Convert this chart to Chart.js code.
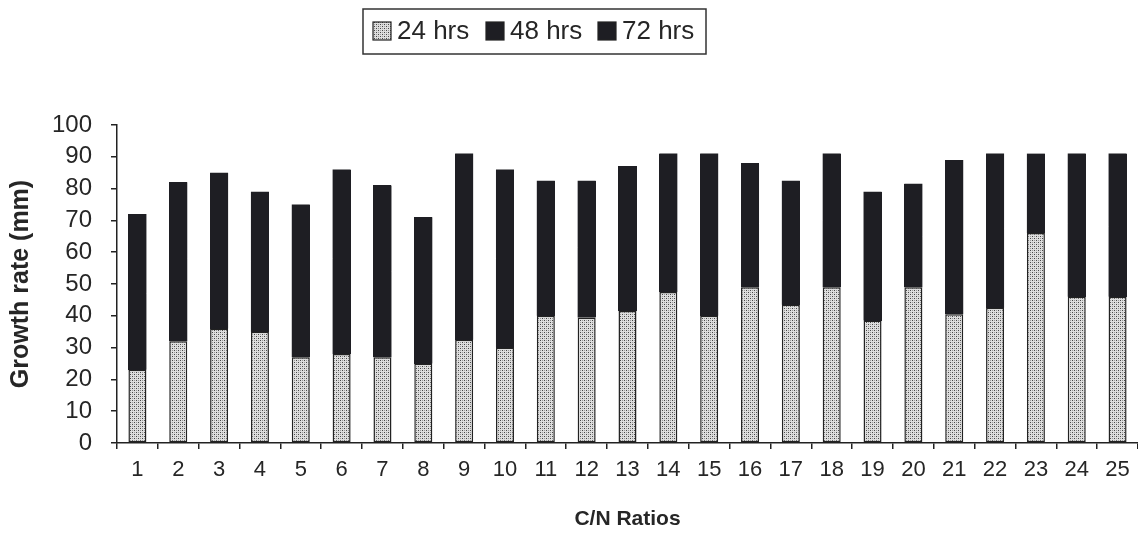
<!DOCTYPE html>
<html>
<head>
<meta charset="utf-8">
<script src="https://cdn.jsdelivr.net/npm/chart.js@4.4.1/dist/chart.umd.min.js"></script>
<style>
  html, body { margin: 0; padding: 0; background: #ffffff; }
  #wrap { width: 1138px; height: 534px; position: relative; }
</style>
</head>
<body>
<div id="wrap"><canvas id="c" width="1138" height="534"></canvas></div>
<script>
const categories = ['1','2','3','4','5','6','7','8','9','10','11','12','13','14','15','16','17','18','19','20','21','22','23','24','25'];
const hrs24 = [23, 32, 36, 35, 27, 28, 27, 25, 32.5, 30, 40, 39.5, 41.5, 47.5, 40, 49, 43.5, 49, 38.5, 49, 40.5, 42.5, 66, 46, 46];
const hrs48 = [24, 26, 25, 22, 23, 30, 27, 22, 30, 28, 21, 22, 23, 22, 26, 20, 19, 21, 20, 16, 24, 25, 12, 23, 22];
const hrs72 = [25, 24, 24, 22, 25, 28, 27, 24, 28.5, 28, 21.5, 21, 22.5, 21.5, 25, 19, 20, 21, 20.5, 16.5, 24.5, 23.5, 13, 22, 23];
const seriesNames = ['24 hrs', '48 hrs', '72 hrs'];
const yTicks = [0, 10, 20, 30, 40, 50, 60, 70, 80, 90, 100];

const ctxMain = document.getElementById('c').getContext('2d');

function makeDots() {
  const p = document.createElement('canvas');
  p.width = 4; p.height = 4;
  const g = p.getContext('2d');
  g.fillStyle = '#dedede';
  g.fillRect(0, 0, 4, 4);
  g.fillStyle = '#474747';
  g.fillRect(0, 0, 1, 1);
  g.fillRect(2, 2, 1, 1);
  g.fillStyle = '#9a9a9a';
  g.fillRect(2, 0, 1, 1);
  g.fillRect(0, 2, 1, 1);
  return ctxMain.createPattern(p, 'repeat');
}
const dotFill = makeDots();
const DARK = '#1e1e23';

const FONT = "'Liberation Sans', Arial, sans-serif";
const TXT = '#262626';

const legendBox = {
  id: 'legendBox',
  afterDraw(chart) {
    const c = chart.ctx;
    c.save();
    const x0 = 363, y0 = 9, w = 343, h = 45;
    c.strokeStyle = '#333';
    c.lineWidth = 1.5;
    c.strokeRect(x0, y0, w, h);
    c.font = '26px ' + FONT;
    c.textBaseline = 'middle';
    const fills = [dotFill, DARK, DARK];
    const swatchX = [373, 486, 598];
    const cy = 31;
    seriesNames.forEach((name, i) => {
      const x = swatchX[i];
      c.fillStyle = fills[i];
      c.fillRect(x, cy - 9, 18, 18);
      c.strokeStyle = '#222';
      c.lineWidth = 1.2;
      c.strokeRect(x, cy - 9, 18, 18);
      c.fillStyle = TXT;
      c.fillText(name, x + 24, cy + 1);
    });
    c.restore();
  }
};

// The 48 hrs and 72 hrs segments share one colour in the reference: repaint the
// joined dark part of each bar (from the library's element geometry) so no
// anti-aliasing seam shows between them.
const seamFix = {
  id: 'seamFix',
  afterDatasetsDraw(chart) {
    const c = chart.ctx;
    const m48 = chart.getDatasetMeta(1);
    const m72 = chart.getDatasetMeta(2);
    c.save();
    c.fillStyle = DARK;
    m48.data.forEach((el, i) => {
      const a = el.getProps(['x', 'base', 'width'], true);
      const b = m72.data[i].getProps(['y'], true);
      const x0 = Math.round(a.x - a.width / 2), x1 = Math.round(a.x + a.width / 2);
      const yTop = Math.round(b.y), yBot = Math.round(a.base);
      c.fillRect(x0, yTop, x1 - x0, yBot - yTop);
    });
    c.restore();
  }
};

new Chart(ctxMain, {
  type: 'bar',
  data: {
    labels: categories,
    datasets: [
      { label: seriesNames[0], data: hrs24, backgroundColor: dotFill, borderColor: '#222', borderWidth: 1.5, borderSkipped: false },
      { label: seriesNames[1], data: hrs48, backgroundColor: DARK, borderWidth: 0 },
      { label: seriesNames[2], data: hrs72, backgroundColor: DARK, borderWidth: 0 }
    ]
  },
  options: {
    responsive: false,
    animation: false,
    layout: { padding: { top: 125, right: 0, bottom: 0, left: 6 } },
    datasets: { bar: { categoryPercentage: 0.9, barPercentage: 0.49 } },
    plugins: {
      legend: { display: false },
      tooltip: { enabled: false }
    },
    scales: {
      x: {
        stacked: true,
        offset: true,
        grid: { display: true, drawOnChartArea: false, drawTicks: true, tickLength: 6, color: '#222', offset: true, lineWidth: 1.5 },
        border: { display: true, color: '#222', width: 1.5 },
        ticks: { color: TXT, font: { family: FONT, size: 22 }, padding: 8, maxRotation: 0, autoSkip: false },
        title: { display: true, text: 'C/N Ratios', color: TXT, font: { family: FONT, size: 21, weight: 'bold' }, padding: { top: 0, bottom: 2 } },
        afterFit(scale) { scale.height = 534 - 443; }
      },
      y: {
        stacked: true,
        min: 0, max: 100,
        afterBuildTicks(scale) { scale.ticks = yTicks.map(v => ({ value: v })); },
        grid: { display: true, drawOnChartArea: false, drawTicks: true, tickLength: 6, color: '#222', lineWidth: 1.5 },
        border: { display: true, color: '#222', width: 1.5 },
        ticks: { color: TXT, font: { family: FONT, size: 24 }, padding: 19 },
        title: { display: true, text: 'Growth rate (mm)', color: TXT, font: { family: FONT, size: 25, weight: 'bold' }, padding: { top: 0, bottom: 0 } },
        afterFit(scale) { scale.width = 117 - 6; }
      }
    }
  },
  plugins: [legendBox, seamFix]
});
</script>
</body>
</html>
